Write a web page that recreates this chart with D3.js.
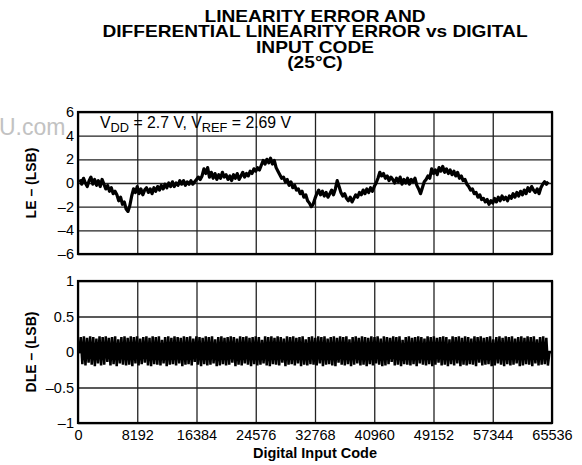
<!DOCTYPE html>
<html><head><meta charset="utf-8">
<script src="https://cdn.jsdelivr.net/npm/d3@7"></script>
<style>
html,body{margin:0;padding:0;background:#fff;}
svg{display:block;font-family:"Liberation Sans",Arial,sans-serif;}
</style></head>
<body><svg id="c" width="582" height="465"></svg>
<script>
// ---------- data ----------
const titleLines = ["LINEARITY ERROR AND", "DIFFERENTIAL LINEARITY ERROR vs DIGITAL", "INPUT CODE", "(25\u00B0C)"];
const xTicks = [0, 8192, 16384, 24576, 32768, 40960, 49152, 57344, 65536];
const leTicks = [6, 4, 2, 0, -2, -4, -6];
const dleTicks = [1, 0.5, 0, -0.5, -1];
const leStep = 256; // LE sampled every 256 codes, starting at code 256
const leValues = [
  0.3,-0.1,0.4,0.0,-0.3,0.2,0.5,-0.1,0.3,-0.2,
  0.2,-0.3,0.3,-0.1,-0.5,-0.2,-0.7,-0.4,-0.9,-0.7,
  -1.0,-1.5,-1.2,-1.8,-1.6,-2.2,-2.4,-1.9,-1.1,-0.5,
  -0.8,-0.3,-0.9,-0.5,-1.0,-0.6,-0.4,-0.8,-0.5,-0.9,
  -0.4,-0.7,-0.3,-0.6,-0.2,-0.5,-0.1,-0.4,0.0,-0.3,
  0.1,-0.3,0.0,-0.2,0.2,-0.1,0.2,-0.2,0.1,-0.1,
  0.2,-0.1,0.1,0.3,0.5,0.3,0.6,1.2,0.8,1.3,
  0.5,0.9,0.4,0.8,0.3,0.7,0.4,0.9,0.5,0.7,
  0.3,0.6,0.2,0.7,0.4,0.8,0.3,0.6,0.9,0.5,
  0.8,0.6,1.0,0.8,1.2,1.0,1.3,1.1,1.5,1.9,
  1.6,2.0,1.7,2.1,1.6,1.9,1.3,1.0,0.7,0.4,
  0.5,0.1,0.3,-0.2,0.1,-0.4,-0.2,-0.6,-0.5,-0.9,
  -0.7,-1.2,-1.0,-1.5,-1.7,-2.0,-1.8,-1.3,-0.9,-0.6,
  -1.0,-0.7,-1.1,-0.8,-1.2,-0.9,-0.6,-1.0,-0.5,0.2,
  -0.3,-0.8,-1.1,-0.9,-1.3,-1.5,-1.2,-1.6,-1.3,-1.0,
  -1.2,-0.8,-1.0,-0.6,-0.9,-0.5,-0.8,-0.4,-0.7,-0.3,
  0.0,0.4,0.9,0.6,0.8,0.4,0.6,0.2,0.5,0.3,
  0.0,0.4,0.1,0.5,-0.1,0.3,0.0,0.4,-0.1,0.3,
  0.1,0.4,-0.2,-0.5,-0.9,-0.4,0.1,0.3,0.6,0.4,
  1.2,0.8,1.1,0.7,1.3,1.0,1.4,0.9,1.2,0.8,
  1.1,0.7,1.0,0.6,0.9,0.4,0.6,0.2,0.3,-0.1,
  -0.3,-0.6,-0.5,-0.9,-0.8,-1.2,-1.0,-1.4,-1.3,-1.6,
  -1.4,-1.8,-1.5,-1.7,-1.3,-1.6,-1.2,-1.5,-1.1,-1.4,
  -1.2,-1.5,-1.1,-1.3,-0.9,-1.2,-0.8,-1.1,-0.7,-1.0,
  -0.6,-0.9,-0.4,-0.7,-0.3,-0.6,-0.8,-0.5,-0.9,-0.4,
  -0.1,0.1,-0.1,0.1
];
const dleStart = 384, dleStep = 216; // DLE zigzag sample grid
const dleHigh = [
  0.21,0.22,0.20,0.22,0.21,0.19,0.22,0.21,0.22,0.20,0.21,0.22,0.18,0.21,0.22,
  0.20,0.22,0.21,0.22,0.19,0.21,0.22,0.20,0.22,0.21,0.22,0.17,0.21,0.22,0.20,
  0.22,0.21,0.20,0.22,0.21,0.22,0.19,0.22,0.21,0.20,0.22,0.21,0.22,0.18,0.21,
  0.22,0.20,0.21,0.22,0.21,0.19,0.22,0.21,0.22,0.20,0.21,0.22,0.21,0.17,0.22,
  0.21,0.22,0.20,0.22,0.21,0.19,0.22,0.21,0.22,0.20,0.21,0.22,0.18,0.21,0.22,
  0.20,0.22,0.21,0.22,0.19,0.21,0.22,0.20,0.22,0.21,0.22,0.18,0.21,0.22,0.20,
  0.22,0.21,0.20,0.22,0.21,0.22,0.19,0.22,0.21,0.20,0.22,0.21,0.22,0.17,0.21,
  0.22,0.20,0.21,0.22,0.21,0.19,0.22,0.21,0.22,0.20,0.21,0.22,0.21,0.18,0.22,
  0.21,0.22,0.20,0.22,0.21,0.19,0.22,0.21,0.22,0.20,0.21,0.22,0.18,0.21,0.22,
  0.20,0.22,0.21,0.22,0.19,0.21,0.22,0.20,0.22,0.21,0.22,0.18,0.21,0.22,0.20
];
const dleLow = [
  -0.17,-0.19,-0.15,-0.18,-0.20,-0.16,-0.19,-0.18,-0.14,-0.19,-0.17,-0.20,-0.16,-0.18,-0.19,
  -0.18,-0.20,-0.16,-0.19,-0.17,-0.15,-0.19,-0.20,-0.17,-0.18,-0.19,-0.16,-0.20,-0.18,-0.17,
  -0.19,-0.16,-0.20,-0.18,-0.17,-0.19,-0.14,-0.18,-0.20,-0.17,-0.19,-0.18,-0.16,-0.20,-0.19,
  -0.17,-0.19,-0.18,-0.15,-0.20,-0.18,-0.19,-0.16,-0.18,-0.20,-0.17,-0.19,-0.18,-0.16,-0.19,
  -0.20,-0.17,-0.18,-0.19,-0.15,-0.20,-0.18,-0.17,-0.19,-0.16,-0.20,-0.18,-0.19,-0.17,-0.18,
  -0.19,-0.16,-0.20,-0.18,-0.17,-0.19,-0.20,-0.15,-0.18,-0.19,-0.17,-0.20,-0.18,-0.16,-0.19,
  -0.18,-0.20,-0.17,-0.19,-0.16,-0.18,-0.20,-0.19,-0.17,-0.14,-0.19,-0.18,-0.20,-0.17,-0.18,
  -0.19,-0.17,-0.20,-0.16,-0.18,-0.19,-0.17,-0.20,-0.18,-0.15,-0.19,-0.18,-0.20,-0.17,-0.19,
  -0.16,-0.20,-0.18,-0.19,-0.17,-0.18,-0.20,-0.15,-0.19,-0.18,-0.17,-0.20,-0.19,-0.16,-0.18,
  -0.20,-0.17,-0.19,-0.18,-0.16,-0.20,-0.19,-0.17,-0.18,-0.20,-0.16,-0.19,-0.18,-0.17,-0.19
];

// ---------- layout ----------
const svg = d3.select("#c");
const L = 78, R = 552;
const topY = [112, 254], botY = [281, 423];
const x = d3.scaleLinear().domain([0, 65536]).range([L, R]);
const yLE = d3.scaleLinear().domain([-6, 6]).range([topY[1], topY[0]]);
const yDLE = d3.scaleLinear().domain([-1, 1]).range([botY[1], botY[0]]);
const fmt = v => (v < 0 ? "\u2013" + String(-v) : String(v));

// watermark
svg.append("text").attr("x", -1).attr("y", 135).attr("fill", "#c2c2c2")
  .attr("font-size", 23).text("U.com");

// title (one text element, stretched horizontally like the reference)
const tt = svg.append("text").attr("transform", "translate(315,0) scale(1.16,1)")
  .attr("text-anchor", "middle").attr("font-weight", "bold").attr("font-size", 16.5);
titleLines.forEach((d, i) => {
  tt.append("tspan").attr("x", 0).attr("y", 22 + i * 15.3).text(d);
});

function panel(y, ticks, yr, showX) {
  const g = svg.append("g");
  const ya = d3.axisLeft(y).tickValues(ticks).tickFormat(fmt).tickSize(-(R - L)).tickPadding(4);
  const gy = g.append("g").attr("transform", `translate(${L},0)`).call(ya);
  gy.select(".domain").remove();
  gy.selectAll(".tick line").attr("stroke", "#222").attr("stroke-width", 1.3);
  gy.selectAll(".tick text").attr("font-size", 14.5).attr("fill", "#000")
    .attr("font-family", "Liberation Sans, Arial, sans-serif");
  const xa = d3.axisBottom(x).tickValues(xTicks).tickFormat(showX ? d3.format("d") : "")
    .tickSize(-(yr[1] - yr[0])).tickPadding(7);
  const gx = g.append("g").attr("transform", `translate(0,${yr[1]})`).call(xa);
  gx.select(".domain").remove();
  gx.selectAll(".tick line").attr("stroke", "#222").attr("stroke-width", 1.3);
  gx.selectAll(".tick text").attr("font-size", 14.5).attr("fill", "#000")
    .attr("font-family", "Liberation Sans, Arial, sans-serif");
  g.append("rect").attr("x", L).attr("y", yr[0]).attr("width", R - L).attr("height", yr[1] - yr[0])
    .attr("fill", "none").attr("stroke", "#000").attr("stroke-width", 2.2);
  return g;
}
panel(yLE, leTicks, topY, false);
panel(yDLE, dleTicks, botY, true);

// annotation
const ann = svg.append("text").attr("x", 100).attr("y", 128).attr("font-size", 15.8).attr("fill", "#000");
ann.append("tspan").text("V");
ann.append("tspan").attr("dy", 4).attr("font-size", 12.8).text("DD");
ann.append("tspan").attr("dy", -4).text(" = 2.7 V, V");
ann.append("tspan").attr("dy", 4).attr("font-size", 12.8).text("REF");
ann.append("tspan").attr("dy", -4).text(" = 2.69 V");

// LE curve
const leData = leValues.map((v, i) => [(i + 1) * leStep, v]);
svg.append("path").datum(leData)
  .attr("d", d3.line().x(d => x(d[0])).y(d => yLE(d[1])))
  .attr("fill", "none").attr("stroke", "#000").attr("stroke-width", 3.2).attr("stroke-linejoin", "round");

// DLE curve (zigzag)
const dleData = [[0, 0], [dleStart - dleStep, 0]];
dleHigh.forEach((h, i) => {
  dleData.push([dleStart + (2 * i) * dleStep, h]);
  dleData.push([dleStart + (2 * i + 1) * dleStep, dleLow[i]]);
});
const lastCode = dleData[dleData.length - 1][0];
dleData.push([lastCode + dleStep, 0], [65536, 0]);
svg.append("path").datum(dleData)
  .attr("d", d3.line().x(d => x(d[0])).y(d => yDLE(d[1])))
  .attr("fill", "none").attr("stroke", "#000").attr("stroke-width", 2.5);

// axis titles
svg.append("text").attr("x", 315).attr("y", 458).attr("text-anchor", "middle")
  .attr("font-weight", "bold").attr("font-size", 14.5).text("Digital Input Code");
svg.append("text").attr("transform", "translate(36,183) rotate(-90)").attr("text-anchor", "middle")
  .attr("font-weight", "bold").attr("font-size", 14).text("LE \u2013 (LSB)");
svg.append("text").attr("transform", "translate(36,352) rotate(-90)").attr("text-anchor", "middle")
  .attr("font-weight", "bold").attr("font-size", 14).text("DLE \u2013 (LSB)");
</script></body></html>
